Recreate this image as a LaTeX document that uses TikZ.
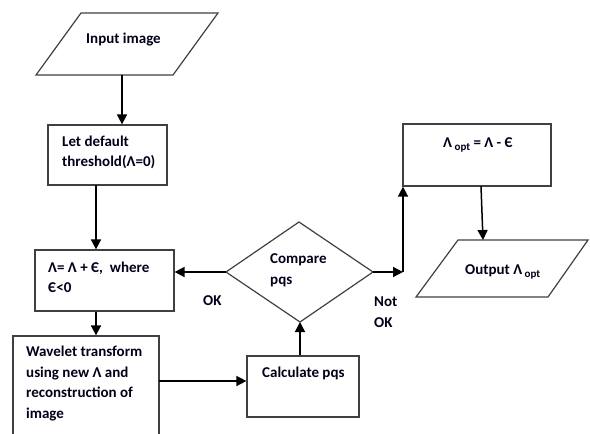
\documentclass[tikz,border=0pt]{standalone}
\usepackage{fontspec}
\setmainfont{Carlito}
\usetikzlibrary{arrows.meta}
\begin{document}
\begin{tikzpicture}[x=1pt,y=-1pt,
  shapeline/.style={draw=black!75, line width=1.2pt},
  flowbox/.style={shapeline, rectangle, inner sep=0pt},
  arr/.style={draw=black, line width=1.5pt, -{Triangle[length=10pt,width=10pt]}},
  txt/.style={font=\fontsize{15}{20.5}\selectfont\bfseries, text=black!90!blue, inner sep=0pt, align=left, anchor=west},
  lbl/.style={txt}]
\useasboundingbox (0,0) rectangle (590,434);
\clip (0,0) rectangle (590,434);
% rectangles
\node[flowbox, minimum width=119pt, minimum height=60pt] (def) at (107.5,155) {};
\node[flowbox, minimum width=139pt, minimum height=61pt] (upd) at (104.5,280.5) {};
\node[flowbox, minimum width=146pt, minimum height=110pt] (wave) at (86,391) {};
\node[flowbox, minimum width=112pt, minimum height=61pt] (calc) at (303,386.5) {};
\node[flowbox, minimum width=148pt, minimum height=62pt] (opt) at (477,155) {};
% parallelograms and diamond
\coordinate (in1) at (81,13); \coordinate (in2) at (218,13);
\coordinate (in3) at (173,75); \coordinate (in4) at (36,75);
\draw[shapeline] (in1) -- (in2) -- (in3) -- (in4) -- cycle;
\coordinate (out1) at (458,240); \coordinate (out2) at (588,240);
\coordinate (out3) at (548,297); \coordinate (out4) at (416,297);
\draw[shapeline] (out1) -- (out2) -- (out3) -- (out4) -- cycle;
\coordinate (dl) at (226,272); \coordinate (dt) at (299,222);
\coordinate (dr) at (373,272); \coordinate (db) at (300,322);
\draw[shapeline] (dl) -- (dt) -- (dr) -- (db) -- cycle;
% texts
\node[txt] (tin) at (86,40) {Input image};
\node[txt] (tdef) at (62,152.5) {Let default\\threshold(Λ=0)};
\node[txt] (tupd) at (48,277.5) {Λ= Λ + Є,~~where\\Є<0};
\node[txt] (twave) at (26,383.5) {Wavelet transform\\using new Λ and\\reconstruction of\\image};
\node[txt] (tcalc) at (262,373) {Calculate pqs};
\node[txt] (tcmp) at (270,270.5) {Compare\\pqs};
\node[lbl] (tok) at (203,301) {OK};
\node[lbl] (tnok) at (374,312) {Not\\OK};
\node[txt] (topt) at (443,145) {Λ\,\raisebox{-0.4ex}{\fontsize{11}{12}\selectfont opt} = Λ - Є};
\node[txt] (tout) at (465,272) {Output Λ\,\raisebox{-0.4ex}{\fontsize{11}{12}\selectfont opt}};
% connectors
\coordinate (inb) at (122,75);
\draw[arr] (inb) -- (inb |- def.north);
\coordinate (defb) at (96,185);
\draw[arr] (defb) -- (defb |- upd.north);
\draw[arr] (defb |- upd.south) -- (defb |- wave.north);
\coordinate (wr) at (159,381);
\draw[arr] (wr) -- (wr -| calc.west);
\draw[arr] (calc.north -| db) -- (db);
\draw[arr] (dl) -- (dl -| upd.east);
\coordinate (corner) at (403,272);
\draw[arr] (dr) -- (corner);
\draw[arr] (corner) -- (corner |- opt.south);
\coordinate (optb) at (481,186);
\draw[arr] (optb) -- (483,240);
\end{tikzpicture}
\end{document}
